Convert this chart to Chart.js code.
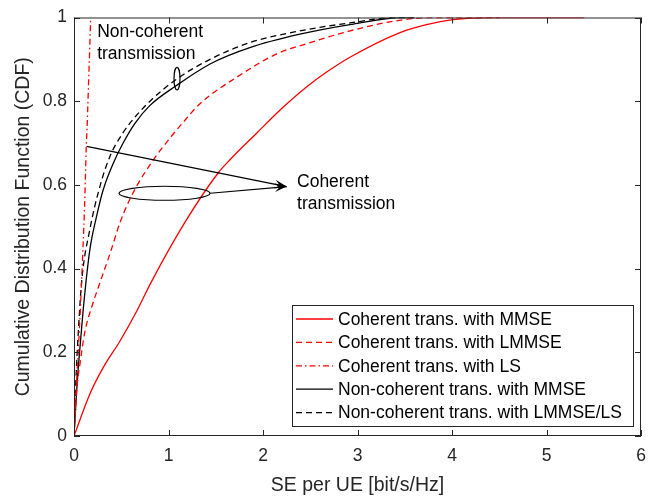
<!DOCTYPE html>
<html>
<head>
<meta charset="utf-8">
<script src="https://cdn.jsdelivr.net/npm/chart.js@4.4.1/dist/chart.umd.min.js"></script>
<style>
  html, body { margin: 0; padding: 0; background: #fff; }
</style>
</head>
<body>
<canvas id="c" width="660" height="497"></canvas>
<script>
// values (SE per UE, CDF)
const cohMmseX = [0, 0.169, 0.31, 0.487, 0.663, 0.82, 1.175, 1.527, 1.65, 1.93, 2.215, 2.46, 2.67, 2.92, 3.45, 3.73, 4.01, 4.4, 5.4];
const cohMmseY = [0, 0.101, 0.164, 0.227, 0.298, 0.369, 0.511, 0.629, 0.66, 0.723, 0.786, 0.834, 0.869, 0.905, 0.964, 0.983, 0.995, 1.0, 1.0];

const cohLmmseX = [0, 0.028, 0.063, 0.116, 0.19, 0.28, 0.38, 0.487, 0.575, 0.663, 0.84, 1.016, 1.157, 1.333, 1.72, 2.145, 2.5, 2.92, 3.38, 3.8, 4.5];
const cohLmmseY = [0, 0.109, 0.172, 0.25, 0.31, 0.37, 0.435, 0.51, 0.558, 0.597, 0.66, 0.712, 0.75, 0.794, 0.857, 0.913, 0.94, 0.968, 0.991, 1.0, 1.0];

const cohLsX = [0, 0.028, 0.056, 0.08, 0.112, 0.13, 0.14, 0.158, 0.177];
const cohLsY = [0, 0.132, 0.25, 0.369, 0.55, 0.692, 0.747, 0.87, 1.0];

const ncMmseX = [0, 0.035, 0.063, 0.099, 0.127, 0.169, 0.24, 0.31, 0.416, 0.52, 0.645, 0.804, 1.087, 1.44, 1.86, 2.39, 2.92, 3.47, 3.6];
const ncMmseY = [0, 0.132, 0.211, 0.306, 0.369, 0.447, 0.526, 0.589, 0.652, 0.70, 0.747, 0.79, 0.838, 0.889, 0.928, 0.96, 0.983, 1.0, 1.0];

const ncLmmseX = [0, 0.02, 0.046, 0.081, 0.169, 0.275, 0.38, 0.52, 0.59, 0.804, 1.087, 1.44, 1.86, 2.39, 2.92, 3.4, 3.6];
const ncLmmseY = [0, 0.132, 0.25, 0.369, 0.495, 0.597, 0.668, 0.725, 0.747, 0.80, 0.853, 0.90, 0.94, 0.968, 0.987, 1.0, 1.0];

const labels = [
  "Coherent trans. with MMSE",
  "Coherent trans. with LMMSE",
  "Coherent trans. with LS",
  "Non-coherent trans. with MMSE",
  "Non-coherent trans. with LMMSE/LS"
];

const xTicks = [0, 1, 2, 3, 4, 5, 6];
const yTicks = [0, 0.2, 0.4, 0.6, 0.8, 1];

const FONT = '"Liberation Sans", Arial, Helvetica, sans-serif';
const AXIS = '#262626';

function pts(xs, ys) {
  return xs.map((x, i) => ({ x: x, y: ys[i] }));
}

function line(label, xs, ys, color, dash) {
  return {
    label: label,
    data: pts(xs, ys),
    borderColor: color,
    borderDash: dash,
    borderWidth: 1.3,
    pointRadius: 0,
    fill: false,
    cubicInterpolationMode: 'monotone'
  };
}

function arrow(ctx, x0, y0, x1, y1) {
  ctx.beginPath();
  ctx.moveTo(x0, y0);
  ctx.lineTo(x1, y1);
  ctx.stroke();
  const a = Math.atan2(y1 - y0, x1 - x0);
  const L = 12, W = 4.5;
  const ux = Math.cos(a), uy = Math.sin(a);
  ctx.beginPath();
  ctx.moveTo(x1, y1);
  ctx.lineTo(x1 - L * ux - W * uy, y1 - L * uy + W * ux);
  ctx.lineTo(x1 - 0.6 * L * ux, y1 - 0.6 * L * uy);
  ctx.lineTo(x1 - L * ux + W * uy, y1 - L * uy - W * ux);
  ctx.closePath();
  ctx.fill();
}

const decor = {
  id: 'decor',
  afterDatasetsDraw(chart) {
    const ctx = chart.ctx;
    const xs = chart.scales.x, ys = chart.scales.y;
    const px = v => xs.getPixelForValue(v);
    const py = v => ys.getPixelForValue(v);
    ctx.save();
    ctx.strokeStyle = '#000';
    ctx.fillStyle = '#000';
    ctx.lineWidth = 1.2;

    // non-coherent group
    ctx.beginPath();
    ctx.ellipse(px(1.09), py(0.854), 3, 11.3, 0, 0, Math.PI * 2);
    ctx.stroke();
    ctx.font = '17.5px ' + FONT;
    ctx.textAlign = 'left';
    ctx.textBaseline = 'alphabetic';
    ctx.fillText('Non-coherent', px(0.245), py(0.953));
    ctx.fillText('transmission', px(0.245), py(0.901));

    // coherent group
    ctx.beginPath();
    ctx.ellipse(px(0.958), py(0.58), 45.5, 7, 0, 0, Math.PI * 2);
    ctx.stroke();
    arrow(ctx, px(0.134), py(0.692), px(2.25), py(0.596));
    arrow(ctx, px(0.958) + 45.5, py(0.58), px(2.25), py(0.596));
    ctx.fillText('Coherent', px(2.36), py(0.596));
    ctx.fillText('transmission', px(2.36), py(0.542));
    ctx.restore();
  },
  afterDraw(chart) {
    const ctx = chart.ctx;
    const a = chart.chartArea;
    const xs = chart.scales.x, ys = chart.scales.y;
    ctx.save();
    ctx.strokeStyle = AXIS;
    ctx.lineWidth = 1;
    ctx.strokeRect(a.left + 0.5, a.top + 0.5, a.right - a.left - 1, a.bottom - a.top - 1);
    const tl = 6;
    ctx.beginPath();
    xTicks.forEach(v => {
      const p = Math.round(xs.getPixelForValue(v)) + 0.5;
      ctx.moveTo(p, a.bottom); ctx.lineTo(p, a.bottom - tl);
      ctx.moveTo(p, a.top); ctx.lineTo(p, a.top + tl);
    });
    yTicks.forEach(v => {
      const p = Math.round(ys.getPixelForValue(v)) + 0.5;
      ctx.moveTo(a.left, p); ctx.lineTo(a.left + tl, p);
      ctx.moveTo(a.right, p); ctx.lineTo(a.right - tl, p);
    });
    ctx.stroke();

    // legend box, lower right
    const bw = 341, bh = 121;
    const bx = a.right - 8 - bw, by = a.bottom - 10 - bh;
    ctx.fillStyle = '#fff';
    ctx.fillRect(bx, by, bw, bh);
    ctx.strokeStyle = AXIS;
    ctx.strokeRect(bx + 0.5, by + 0.5, bw, bh);
    ctx.font = '17.5px ' + FONT;
    ctx.textAlign = 'left';
    ctx.textBaseline = 'middle';
    chart.data.datasets.forEach((ds, i) => {
      const yy = by + 14 + i * 23.4;
      ctx.strokeStyle = ds.borderColor;
      ctx.lineWidth = 1.3;
      ctx.setLineDash(ds.borderDash || []);
      ctx.beginPath();
      ctx.moveTo(bx + 4, yy);
      ctx.lineTo(bx + 41, yy);
      ctx.stroke();
      ctx.setLineDash([]);
      ctx.fillStyle = '#000';
      ctx.fillText(ds.label, bx + 46, yy + 1);
    });
    ctx.restore();
  }
};

new Chart(document.getElementById('c'), {
  type: 'line',
  data: {
    datasets: [
      line(labels[0], cohMmseX, cohMmseY, '#ff0000', []),
      line(labels[1], cohLmmseX, cohLmmseY, '#ff0000', [6, 4]),
      line(labels[2], cohLsX, cohLsY, '#ff0000', [6, 3, 1.5, 3]),
      line(labels[3], ncMmseX, ncMmseY, '#000000', []),
      line(labels[4], ncLmmseX, ncLmmseY, '#000000', [6, 4])
    ]
  },
  options: {
    responsive: false,
    animation: false,
    layout: { padding: { top: 13, right: 19, left: 0, bottom: 0 } },
    plugins: { legend: { display: false }, tooltip: { enabled: false } },
    scales: {
      x: {
        type: 'linear',
        min: 0, max: 6,
        afterBuildTicks: s => { s.ticks = xTicks.map(v => ({ value: v })); },
        afterFit: s => { s.height = 61; },
        grid: { display: false, drawTicks: false },
        border: { display: false },
        ticks: { padding: 10, color: AXIS, font: { family: FONT, size: 17.5 }, maxRotation: 0,
                 callback: v => String(v) },
        title: { display: true, text: 'SE per UE [bit/s/Hz]', color: AXIS,
                 font: { family: FONT, size: 19.5, lineHeight: 1 }, padding: { top: 0, bottom: 2 } }
      },
      y: {
        type: 'linear',
        min: 0, max: 1,
        afterBuildTicks: s => { s.ticks = yTicks.map(v => ({ value: v })); },
        afterFit: s => { s.width = 74; },
        grid: { display: false, drawTicks: false },
        border: { display: false },
        ticks: { padding: 7, color: AXIS, font: { family: FONT, size: 17.5 },
                 callback: v => String(+v.toFixed(1)) },
        title: { display: true, text: 'Cumulative Distribution Function (CDF)', color: AXIS,
                 font: { family: FONT, size: 19.5, lineHeight: 1 }, padding: { top: 14, bottom: 0 } }
      }
    }
  },
  plugins: [decor]
});
</script>
</body>
</html>
